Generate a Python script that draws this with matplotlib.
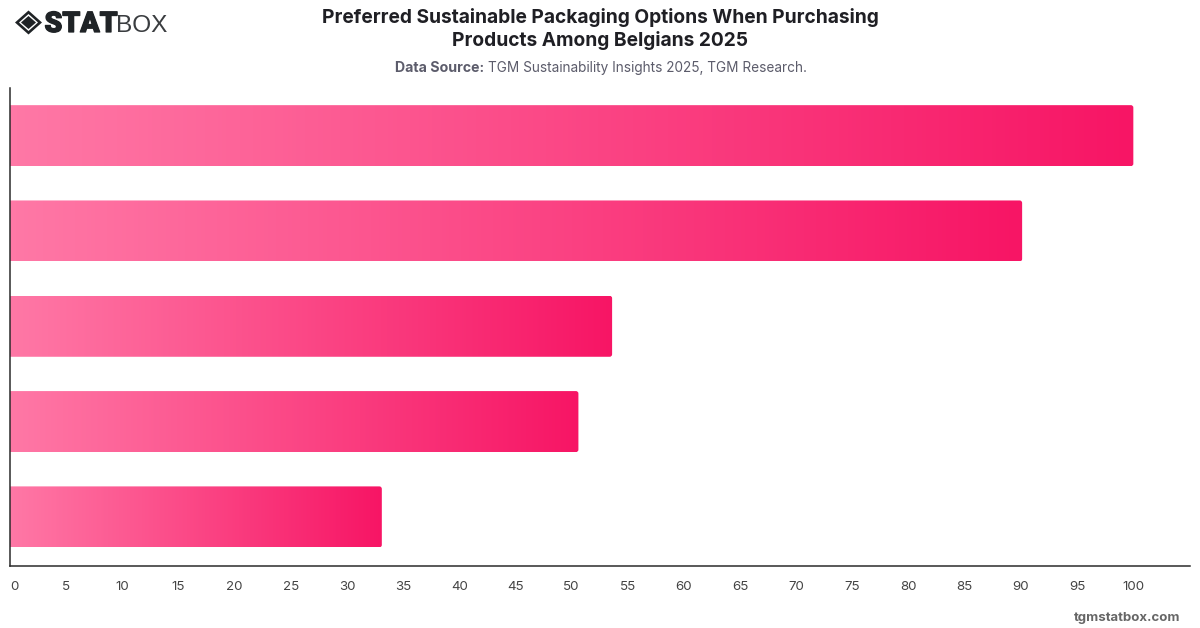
import numpy as np
import matplotlib
matplotlib.use("Agg")
import matplotlib.pyplot as plt
import matplotlib.patheffects as pe
from matplotlib.colors import LinearSegmentedColormap
from matplotlib.patches import FancyBboxPatch, Polygon

values = [100, 90.1, 53.6, 50.6, 33.1]
ticks = list(range(0, 105, 5))
title_lines = ["Preferred Sustainable Packaging Options When Purchasing",
               "Products Among Belgians 2025"]

plt.rcParams['font.family'] = ['Inter', 'DejaVu Sans']

W, H = 1200, 628
YLIM = (4.51, -0.50)
LEFT, RIGHT = 10.0, 1189.5
fig = plt.figure(figsize=(W / 100, H / 100), dpi=100)
ax = fig.add_axes([LEFT / W, 1 - 565.5 / H, (RIGHT - LEFT) / W, (565.5 - 88) / H])

cmap = LinearSegmentedColormap.from_list("pink", ["#ff78a6", "#f71565"])
gradient = np.linspace(0, 1, 256).reshape(1, -1)

# px per data unit, used to keep the corner radius round
x_scale = (RIGHT - LEFT) / 105
y_scale = (565.5 - 88) / (YLIM[0] - YLIM[1])
radius = 2.5 / x_scale

bars = ax.barh(range(len(values)), values, height=0.64, color="none")
for bar in bars:
    x, y = bar.get_x(), bar.get_y()
    w, h = bar.get_width(), bar.get_height()
    im = ax.imshow(gradient, cmap=cmap, aspect="auto", extent=(x, x + w, y + h, y),
                   interpolation="bilinear", zorder=2)
    # starts left of zero so only the right corners show as rounded
    clip = FancyBboxPatch((x - 2, y), w + 2, h,
                          boxstyle=f"round,pad=0,rounding_size={radius}",
                          mutation_aspect=x_scale / y_scale,
                          transform=ax.transData, fc="none", ec="none")
    ax.add_patch(clip)
    im.set_clip_path(clip)
ax.set_xlim(0, 105)
ax.set_ylim(*YLIM)

for side in ("top", "right"):
    ax.spines[side].set_visible(False)
for side in ("left", "bottom"):
    ax.spines[side].set_color("#2b2b2b")
    ax.spines[side].set_linewidth(1.1)
ax.set_yticks([])
ax.set_xticks(ticks)
ax.set_xticklabels([str(t) for t in ticks], fontsize=9.6, color="#444444")
ax.tick_params(axis="x", length=0, pad=11)
ax.get_xticklabels()[0].set_horizontalalignment("left")

fig.text(600 / W, 1 - 23 / H, title_lines[0], ha="center", va="baseline",
         fontsize=13.8, fontweight="bold", color="#1f1f24")
fig.text(600 / W, 1 - 46 / H, title_lines[1], ha="center", va="baseline",
         fontsize=13.8, fontweight="bold", color="#1f1f24")
fig.text(484 / W, 1 - 72 / H, "Data Source:", ha="right", va="baseline",
         fontsize=10.2, fontweight="bold", color="#5c5c6b")
fig.text(487.5 / W, 1 - 72 / H, "TGM Sustainability Insights 2025, TGM Research.",
         ha="left", va="baseline", fontsize=9.82, color="#5c5c6b")
fig.text(1180 / W, 1 - 621 / H, "tgmstatbox.com", ha="right", va="baseline",
         fontsize=9.5, fontweight="bold", color="#666666")


def fig_poly(points, color):
    pts = [(px / W, 1 - py / H) for px, py in points]
    fig.add_artist(Polygon(pts, closed=True, fc=color, ec="none", transform=fig.transFigure))


# logo mark: outer diamond ring with a solid centre
dark = "#1f2326"
fig_poly([(28.5, 10.5), (42, 22.5), (28.5, 34.5), (15, 22.5)], dark)
fig_poly([(28.5, 14), (38, 22.5), (28.5, 31), (19, 22.5)], "white")
fig_poly([(28.5, 16), (36, 22.5), (28.5, 29), (21, 22.5)], dark)
fig.text(44.5 / W, 1 - 32 / H, "STAT", ha="left", va="baseline", fontsize=20.5,
         fontweight="black", color=dark, family=["Roboto", "DejaVu Sans"],
         path_effects=[pe.withStroke(linewidth=0.9, foreground=dark)])
fig.text(116.5 / W, 1 - 32 / H, "BOX", ha="left", va="baseline", fontsize=17.6,
         color="#3a3d40", family=["Liberation Sans", "DejaVu Sans"])

fig.savefig("out.png", dpi=100)
